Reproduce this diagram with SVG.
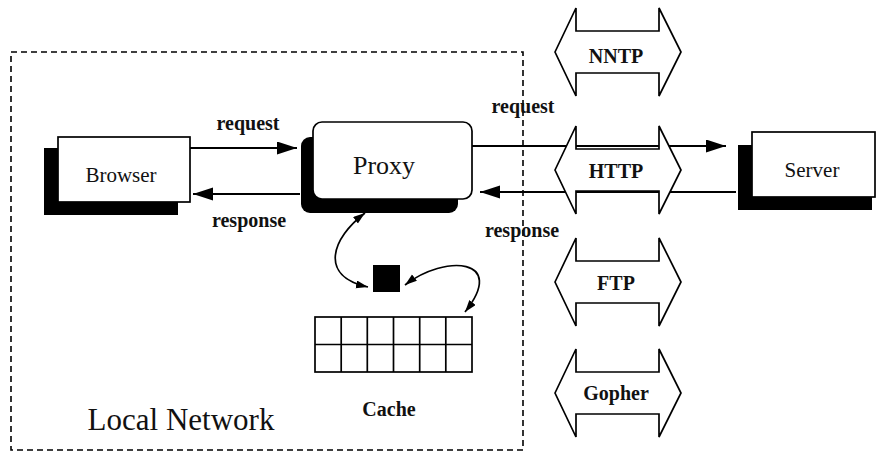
<svg xmlns="http://www.w3.org/2000/svg" width="876" height="456" viewBox="0 0 876 456">
  <style>
    .box { fill: #fff; stroke: #000; stroke-width: 1.7; }
    .shadow { fill: #000; }
    .node-text { font-family: "Liberation Serif", "Times New Roman", serif; fill: #111; text-anchor: middle; }
    .label { font-family: "Liberation Serif", "Times New Roman", serif; font-weight: bold; fill: #111; font-size: 20px; text-anchor: middle; }
    .link { fill: none; stroke: #000; stroke-width: 1.9; }
    .curve { fill: none; stroke: #000; stroke-width: 1.7; }
    .proto { fill: #fff; stroke: #000; stroke-width: 1.7; stroke-linejoin: miter; }
    .grid { fill: #fff; stroke: #000; stroke-width: 1.7; }
    .boundary { fill: none; stroke: #000; stroke-width: 1.6; stroke-dasharray: 6 4; }
  </style>
  <defs>
    <marker id="head" markerUnits="userSpaceOnUse" markerWidth="20" markerHeight="14" refX="20" refY="6.5" orient="auto">
      <path d="M0,0 L20,6.5 L0,13 z" fill="#000"/>
    </marker>
    <marker id="small-head" markerUnits="userSpaceOnUse" markerWidth="12" markerHeight="9" refX="12" refY="4" orient="auto-start-reverse">
      <path d="M0,0 L12,4 L0,8 z" fill="#000"/>
    </marker>
  </defs>

  <rect width="876" height="456" fill="#fff"/>

  <!-- local network boundary -->
  <g id="local-network">
    <rect class="boundary" x="11" y="52" width="512" height="398"/>
    <text class="node-text" x="181" y="430" font-size="31">Local Network</text>
  </g>

  <!-- connectors, drawn beneath the protocol arrows -->
  <g id="connectors">
    <line class="link" x1="190" y1="148" x2="297" y2="148" marker-end="url(#head)"/>
    <line class="link" x1="300" y1="194" x2="193" y2="194" marker-end="url(#head)"/>
    <line class="link" x1="472" y1="146" x2="726" y2="146" marker-end="url(#head)"/>
    <line class="link" x1="736" y1="192" x2="480" y2="192" marker-end="url(#head)"/>
    <path class="curve" d="M365,213 C332,238 318,276 368,287" marker-start="url(#small-head)" marker-end="url(#small-head)"/>
    <path class="curve" d="M405,285 C445,254 508,258 465,312" marker-start="url(#small-head)" marker-end="url(#small-head)"/>
    <text class="label" x="248" y="130">request</text>
    <text class="label" x="249" y="227">response</text>
    <text class="label" x="523" y="113">request</text>
    <text class="label" x="522" y="237">response</text>
  </g>

  <g id="browser">
    <rect class="shadow" x="44" y="148" width="134" height="67"/>
    <rect class="box" x="58" y="137" width="132" height="65"/>
    <text class="node-text" x="121" y="182" font-size="21">Browser</text>
  </g>

  <g id="proxy">
    <rect class="shadow" x="301" y="137" width="157" height="76" rx="9"/>
    <rect class="box" x="313" y="122" width="159" height="77" rx="9"/>
    <text class="node-text" x="384" y="174" font-size="26">Proxy</text>
  </g>

  <g id="server">
    <rect class="shadow" x="738" y="145" width="134" height="65"/>
    <rect class="box" x="752" y="132" width="123" height="65"/>
    <text class="node-text" x="812" y="177" font-size="21">Server</text>
  </g>

  <g id="lookup">
    <rect class="shadow" x="373" y="265" width="27" height="27"/>
  </g>

  <g id="cache">
    <rect class="grid" x="315" y="317" width="157" height="55"/>
    <path class="grid" fill="none" d="M315,344.5 H472 M341.2,317 V372 M367.3,317 V372 M393.5,317 V372 M419.7,317 V372 M445.8,317 V372"/>
    <text class="label" x="389" y="416">Cache</text>
  </g>

  <!-- protocol double arrows -->
  <g id="nntp">
    <polygon class="proto" points="555,52 576,8 576,31 659,31 659,8 681,52 659,96 659,73 576,73 576,96"/>
    <text class="label" x="616" y="63">NNTP</text>
  </g>
  <g id="http">
    <polygon class="proto" points="555,170 576,126 576,149 659,149 659,126 681,170 659,214 659,191 576,191 576,214"/>
    <text class="label" x="616" y="178">HTTP</text>
  </g>
  <g id="ftp">
    <polygon class="proto" points="555,282 576,238 576,261 659,261 659,238 681,282 659,326 659,303 576,303 576,326"/>
    <text class="label" x="616" y="290">FTP</text>
  </g>
  <g id="gopher">
    <polygon class="proto" points="555,393 576,349 576,372 659,372 659,349 681,393 659,437 659,414 576,414 576,437"/>
    <text class="label" x="616" y="400">Gopher</text>
  </g>
</svg>
